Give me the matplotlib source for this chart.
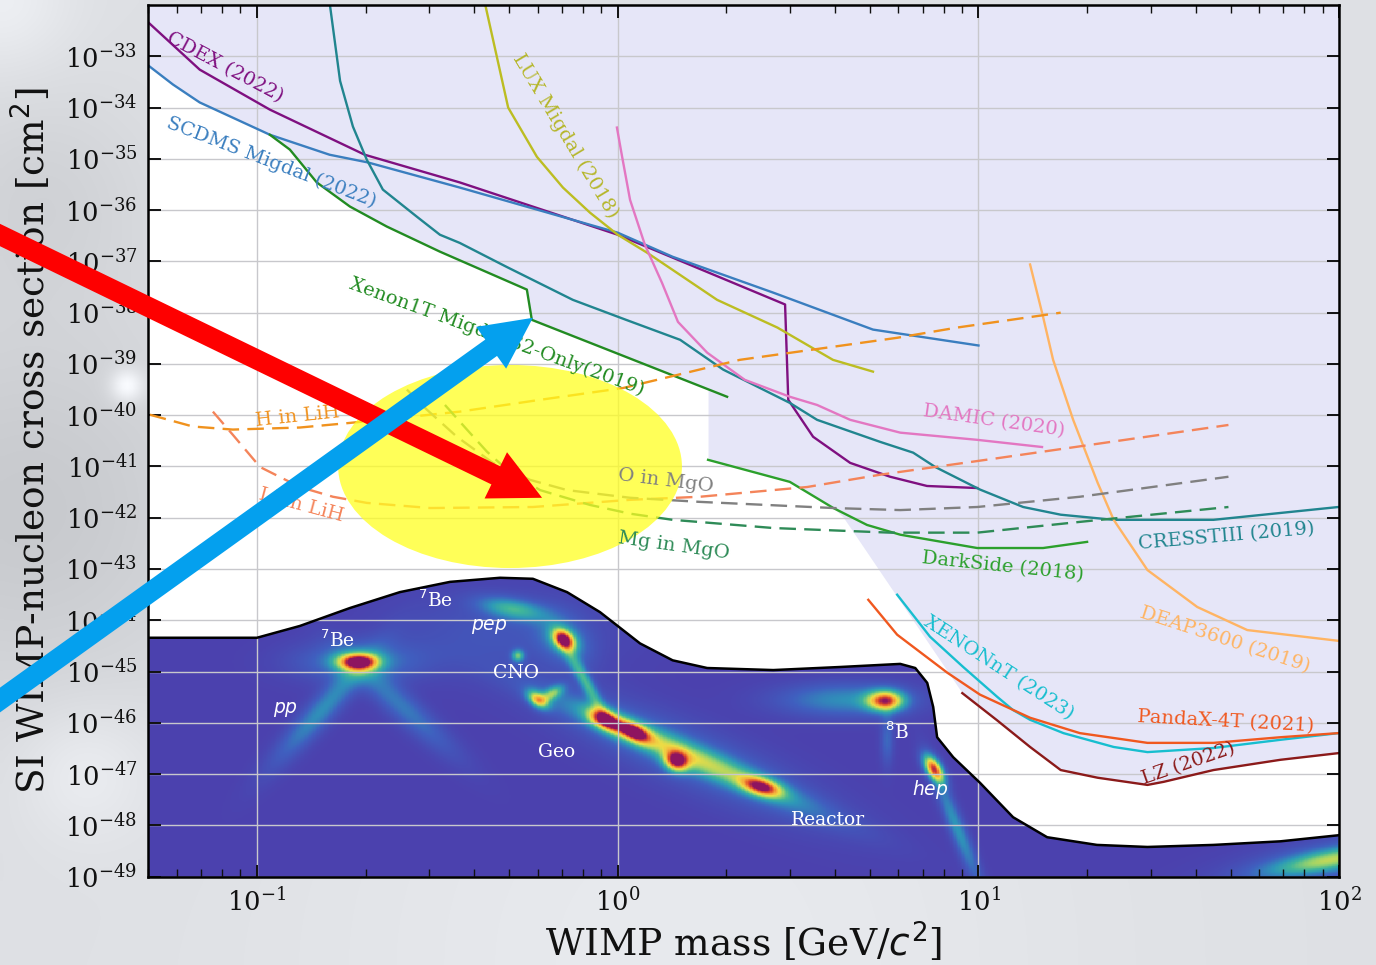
import numpy as np
import matplotlib
matplotlib.use("Agg")
import matplotlib.pyplot as plt
from matplotlib.colors import LinearSegmentedColormap
from matplotlib.patches import Polygon, Ellipse
from matplotlib.ticker import LogLocator, FixedLocator, NullLocator, NullFormatter

plt.rcParams['font.family'] = ['DejaVu Serif']
plt.rcParams['mathtext.fontset'] = 'dejavusans'

# ---------------- limits (mass in GeV/c^2, log10 of cross section in cm^2) ----------------
CDEX_M = [0.05, 0.0694, 0.1086, 0.199, 0.365, 1.0, 2.91, 2.97, 3.48, 4.41, 5.69, 7.2, 9.92]
CDEX_LS = [-32.34, -33.26, -34.04, -34.92, -35.46, -36.48, -37.84, -39.70, -40.42, -40.93, -41.20, -41.38, -41.42]

SCDMS_M = [0.05, 0.0585, 0.0694, 0.1086, 0.159, 0.203, 0.365, 1.0, 1.42, 2.70, 5.1, 10.0]
SCDMS_LS = [-33.18, -33.55, -33.90, -34.53, -34.92, -35.07, -35.56, -36.44, -36.91, -37.61, -38.33, -38.64]

CRESST_M = [0.159, 0.170, 0.1845, 0.2017, 0.2234, 0.2777, 0.3215, 0.365, 0.493, 0.751, 1.055, 1.49,
            1.96, 3.0, 3.57, 5.34, 6.59, 7.59, 10.1, 13.3, 16.9, 23.7, 44.8, 99.5]
CRESST_LS = [-31.95, -33.48, -34.37, -35.02, -35.60, -36.13, -36.48, -36.64, -37.11, -37.75, -38.14, -38.53,
             -39.11, -39.76, -40.09, -40.52, -40.73, -41.01, -41.45, -41.79, -41.94, -42.04, -42.04, -41.79]

XE1T_M = [0.1086, 0.1234, 0.1465, 0.181, 0.229, 0.3215, 0.56, 0.578, 2.01]
XE1T_LS = [-34.53, -34.82, -35.46, -35.93, -36.32, -36.81, -37.55, -38.14, -39.64]

LUX_M = [0.428, 0.497, 0.597, 0.705, 0.838, 1.0, 1.206, 1.886, 2.77, 3.95, 5.1]
LUX_LS = [-31.95, -34.00, -34.96, -35.56, -36.05, -36.48, -36.83, -37.75, -38.29, -38.92, -39.15]

DAMIC_M = [0.995, 1.028, 1.082, 1.19, 1.327, 1.469, 1.77, 2.25, 3.0, 3.57, 4.41, 6.07, 9.92, 15.0]
DAMIC_LS = [-34.39, -34.95, -35.80, -36.68, -37.42, -38.18, -38.78, -39.31, -39.64, -39.80, -40.09, -40.34,
            -40.48, -40.62]

DS_M = [1.78, 3.0, 3.96, 4.91, 6.07, 9.92, 15.1, 20.0]
DS_LS = [-40.87, -41.30, -41.81, -42.14, -42.33, -42.59, -42.59, -42.47]

DEAP_M = [13.9, 15.1, 16.1, 18.3, 21.4, 23.7, 29.4, 40.4, 55.6, 99.5]
DEAP_LS = [-37.06, -38.08, -38.92, -40.09, -41.32, -42.04, -43.02, -43.74, -44.19, -44.40]

XENT_M = [5.95, 7.34, 9.07, 11.26, 12.47, 13.9, 17.2, 23.7, 29.4, 44.8, 68.7, 99.5]
XENT_LS = [-43.50, -44.32, -44.91, -45.49, -45.75, -45.94, -46.20, -46.47, -46.57, -46.49, -46.33, -46.20]

PANDA_M = [4.95, 5.95, 8.19, 10.1, 13.9, 19.1, 29.4, 44.8, 68.7, 99.5]
PANDA_LS = [-43.60, -44.28, -45.02, -45.45, -45.90, -46.20, -46.39, -46.39, -46.28, -46.20]

LZ_M = [9.02, 11.26, 13.9, 16.9, 21.4, 29.4, 32.6, 44.8, 68.7, 99.5]
LZ_LS = [-45.42, -45.95, -46.47, -46.92, -47.07, -47.21, -47.15, -46.92, -46.72, -46.59]

# projected Migdal sensitivities (dashed)
HLIH_M = [0.0505, 0.0664, 0.0857, 0.1315, 0.181, 0.2655, 0.365, 0.609, 1.034, 2.18, 5.95, 8.73, 16.9]
HLIH_LS = [-39.99, -40.22, -40.28, -40.24, -40.15, -40.03, -39.93, -39.70, -39.47, -38.92, -38.49, -38.29, -38.00]

LILIH_M = [0.0755, 0.0857, 0.102, 0.1315, 0.1624, 0.2017, 0.302, 0.582, 1.082, 1.69, 3.35, 5.34, 11.5, 49.3]
LILIH_LS = [-39.93, -40.38, -41.01, -41.40, -41.59, -41.71, -41.81, -41.79, -41.65, -41.59, -41.40, -41.16,
            -40.83, -40.19]

OMGO_M = [0.2604, 0.2956, 0.3583, 0.451, 0.571, 0.7236, 1.082, 1.69, 3.96, 6.07, 9.92, 19.1, 49.3]
OMGO_LS = [-39.50, -39.89, -40.42, -40.93, -41.26, -41.46, -41.61, -41.69, -41.81, -41.85, -41.79, -41.59, -41.20]

MGMGO_M = [0.332, 0.382, 0.434, 0.493, 0.609, 0.838, 1.082, 1.42, 2.70, 5.69, 9.92, 19.1, 49.3]
MGMGO_LS = [-39.80, -40.28, -40.71, -41.06, -41.46, -41.75, -41.92, -42.04, -42.20, -42.29, -42.29, -42.08, -41.79]

# neutrino fog upper edge
FOG_M = [0.05, 0.1, 0.1315, 0.181, 0.249, 0.343, 0.472, 0.582, 0.7236, 0.893, 1.153, 1.42, 1.77, 2.70, 4.14,
         6.07, 6.68, 7.21, 7.49, 7.68, 8.51, 10.1, 12.47, 15.5, 21.3, 29.4, 44.8, 68.7, 100]
FOG_LS = [-44.34, -44.34, -44.11, -43.76, -43.45, -43.25, -43.17, -43.19, -43.45, -43.84, -44.45, -44.78, -44.93,
          -44.97, -44.91, -44.85, -44.93, -45.22, -45.69, -46.28, -46.67, -47.17, -47.84, -48.23, -48.38, -48.42,
          -48.38, -48.31, -48.19]

# lower edge of the combined excluded region
EXCL_M = [0.05, 0.0585, 0.0694, 0.1086, 0.1234, 0.1465, 0.181, 0.229, 0.3215, 0.56, 0.578, 1.78, 1.78, 3.0, 3.96,
          4.21, 9.02, 11.26, 13.9, 16.9, 21.4, 29.4, 32.6, 44.8, 68.7, 100]
EXCL_LS = [-33.18, -33.55, -33.90, -34.53, -34.82, -35.46, -35.93, -36.32, -36.81, -37.55, -38.14, -39.48, -40.87,
           -41.30, -41.81, -41.98, -45.42, -45.95, -46.47, -46.92, -47.07, -47.21, -47.15, -46.92, -46.72, -46.59]

# neutrino-fog features: (mass, log10 sigma, long width, short width [mass decades], angle deg, strength)
FOG_BLOBS = [
    (0.1905, -44.81, 0.040, 0.016, 0, 0.80),
    (0.1905, -44.81, 0.12, 0.038, 0, 0.24),
    (0.1515, -45.75, 0.14, 0.026, 48, 0.28),
    (0.252, -45.67, 0.14, 0.028, -42, 0.22),
    (0.512, -43.78, 0.065, 0.020, -10, 0.36),
    (0.48, -44.20, 0.22, 0.08, 0, 0.10),
    (0.71, -44.38, 0.024, 0.017, -40, 0.80),
    (0.71, -44.38, 0.055, 0.038, -40, 0.24),
    (0.529, -44.69, 0.012, 0.012, 0, 0.42),
    (0.601, -45.55, 0.024, 0.014, -35, 0.62),
    (0.661, -45.42, 0.024, 0.012, 30, 0.38),
    (0.812, -45.18, 0.075, 0.013, -60, 0.38),
    (0.922, -45.94, 0.034, 0.018, -25, 0.74),
    (1.11, -46.18, 0.034, 0.017, -25, 0.70),
    (1.452, -46.76, 0.024, 0.019, -20, 0.74),
    (2.51, -47.25, 0.040, 0.017, -15, 0.66),
    (1.558, -46.63, 0.25, 0.026, -23, 0.46),
    (1.558, -46.63, 0.29, 0.060, -23, 0.18),
    (5.52, -45.57, 0.036, 0.020, 0, 0.80),
    (4.27, -45.55, 0.13, 0.032, 0, 0.28),
    (5.58, -46.33, 0.05, 0.013, 90, 0.18),
    (7.53, -46.90, 0.030, 0.015, -57, 0.85),
    (8.73, -48.05, 0.12, 0.016, -68, 0.30),
    (94.6, -48.67, 0.12, 0.020, 10, 0.42),
    (94.6, -48.67, 0.20, 0.040, 10, 0.18),
]

# (label, mass, log10 sigma, rotation, colour, horizontal anchor)
CURVE_LABELS = [
    ("CDEX (2022)", 0.0815, -33.22, -28, '#7f1080', 'center'),
    ("SCDMS Migdal (2022)", 0.1093, -35.07, -21, '#3a7ebf', 'center'),
    ("Xenon1T Migdal S2-Only(2019)", 0.181, -37.42, -20, '#228b22', 'left'),
    ("LUX Migdal (2018)", 0.714, -34.55, -59, '#b5b62a', 'center'),
    ("DAMIC (2020)", 11.06, -40.11, -8, '#e377c2', 'center'),
    ("O in MgO", 1.361, -41.28, -7, '#808080', 'center'),
    ("Mg in MgO", 1.432, -42.55, -8, '#2e8b57', 'center'),
    ("DarkSide (2018)", 11.71, -42.96, -6, '#2ca02c', 'center'),
    ("CRESSTIII (2019)", 48.6, -42.37, 5, '#21858f', 'center'),
    ("DEAP3600 (2019)", 48.3, -44.38, -18, '#ffb463', 'center'),
    ("XENONnT (2023)", 11.34, -44.93, -33, '#17becf', 'center'),
    ("PandaX-4T (2021)", 48.6, -45.98, -3, '#f0581f', 'center'),
    ("LZ (2022)", 38.2, -46.80, 19, '#8b1a1a', 'center'),
    ("H in LiH", 0.1298, -40.03, 6, '#f0921e', 'center'),
    ("Li in LiH", 0.1324, -41.75, -15, '#f4845a', 'center'),
]

FOG_LABELS = [
    ("$^7$Be", 0.1676, -44.38), ("$^7$Be", 0.3134, -43.60), ("$pep$", 0.44, -44.13),
    ("CNO", 0.522, -45.03), ("$pp$", 0.1197, -45.73), ("Geo", 0.679, -46.57),
    ("Reactor", 3.83, -47.89), ("$^8$B", 5.95, -46.18), ("$hep$", 7.35, -47.29),
]

XLIM = (0.05, 100)
YLIM_EXP = (-49, -32)
YTICK_EXP = list(range(-49, -32))

# highlighted region: centre (mass, log10 sigma) and half extents in decades
HIGHLIGHT = (0.503, -41.0, 0.4765, 1.98)
# arrows: tip (mass, log10 sigma), tail in figure fraction
RED_ARROW = ((0.617, -41.61), (-0.0436, 0.7866))
BLUE_ARROW = ((0.582, -38.10), (-0.0436, 0.230))

# ---------------- figure ----------------
fig = plt.figure(figsize=(13.76, 9.65), dpi=100)

# soft photographic backdrop
bg = fig.add_axes([0, 0, 1, 1], zorder=-10)
bg.axis('off')
H, W = 200, 286
gy, gx = np.mgrid[0:H, 0:W]
fx = gx / (W - 1)
fy = 1 - gy / (H - 1)
img = np.ones((H, W, 3)) * np.array([222, 224, 228], float)
BACKDROP = [(0.02, 0.47, 0.15, -22), (0.03, 0.80, 0.08, -12), (0.091, 0.601, 0.012, 40),
            (0.0, 1.0, 0.05, 15), (0.06, 0.20, 0.05, 14), (0.5, 0.0, 0.3, 10)]
for cx, cy, r, d in BACKDROP:
    g = np.exp(-0.5 * (((fx - cx) * 1.426) ** 2 + (fy - cy) ** 2) / r ** 2)
    img += d * g[..., None]
bg.imshow(np.clip(img, 0, 255) / 255, extent=[0, 1, 0, 1], aspect='auto', interpolation='bilinear')
bg.set_xlim(0, 1)
bg.set_ylim(0, 1)

ax = fig.add_axes([0.1078, 0.0915, 0.8655, 0.9033])
ax.set_facecolor('white')
ax.set_xscale('log')
ax.set_yscale('log')
ax.set_xlim(*XLIM)
ax.set_ylim(10.0 ** YLIM_EXP[0], 10.0 ** YLIM_EXP[1])


def sig(a):
    return 10.0 ** np.asarray(a, float)


# excluded region
ax.fill_between(EXCL_M, sig(EXCL_LS), 1e-31, color='#e6e6f8', lw=0, zorder=0.8)

# neutrino fog
lx0, lx1 = np.log10(XLIM[0]), np.log10(XLIM[1])
bbox = ax.get_position()
px_w = bbox.width * fig.get_figwidth() * fig.dpi
px_h = bbox.height * fig.get_figheight() * fig.dpi
aspect = (px_h / (YLIM_EXP[1] - YLIM_EXP[0])) / (px_w / (lx1 - lx0))
xs = np.linspace(lx0, lx1, 900)
ys = np.linspace(-49.2, -42.8, 500)
LX, LY = np.meshgrid(xs, ys)
field = np.zeros_like(LX)
for m, s, sa, sb, ang, amp in FOG_BLOBS:
    dx = LX - np.log10(m)
    dy = (LY - s) * aspect
    t = np.deg2rad(ang)
    u = dx * np.cos(t) + dy * np.sin(t)
    v = -dx * np.sin(t) + dy * np.cos(t)
    field += amp * np.exp(-0.5 * ((u / sa) ** 2 + (v / sb) ** 2))
field = np.clip(field, 0, 1)
fog_cmap = LinearSegmentedColormap.from_list('fog', [
    (0.0, '#4b41ae'), (0.15, '#3f5fbf'), (0.3, '#2d96b8'), (0.42, '#3fb59a'), (0.55, '#9bd36a'),
    (0.66, '#ecdc45'), (0.78, '#f5a83a'), (0.9, '#de4a2a'), (1.0, '#8e1460')])
mesh = ax.pcolormesh(10 ** xs, 10 ** ys, field, cmap=fog_cmap, vmin=0, vmax=1,
                     shading='auto', zorder=1, rasterized=True)
fog_edge = np.column_stack([list(FOG_M) + [XLIM[1], XLIM[0]],
                            list(sig(FOG_LS)) + [1e-50, 1e-50]])
clip_poly = Polygon(fog_edge, closed=True, transform=ax.transData, fc='none', ec='none')
ax.add_patch(clip_poly)
mesh.set_clip_path(clip_poly)
ax.plot(FOG_M, sig(FOG_LS), color='black', lw=1.8, zorder=3)

# experimental limits
solid = [(CDEX_M, CDEX_LS, '#7f1080'), (SCDMS_M, SCDMS_LS, '#3a7ebf'), (CRESST_M, CRESST_LS, '#21858f'),
         (XE1T_M, XE1T_LS, '#228b22'), (LUX_M, LUX_LS, '#bcbd22'), (DAMIC_M, DAMIC_LS, '#e377c2'),
         (DS_M, DS_LS, '#2ca02c'), (DEAP_M, DEAP_LS, '#ffb463'), (XENT_M, XENT_LS, '#17becf'),
         (PANDA_M, PANDA_LS, '#f0581f'), (LZ_M, LZ_LS, '#8b1a1a')]
for m, s, c in solid:
    ax.plot(m, sig(s), color=c, lw=1.7, zorder=3)

dashed = [(HLIH_M, HLIH_LS, '#f0921e'), (LILIH_M, LILIH_LS, '#f4845a'),
          (OMGO_M, OMGO_LS, '#808080'), (MGMGO_M, MGMGO_LS, '#2e8b57')]
for m, s, c in dashed:
    ax.plot(m, sig(s), color=c, lw=1.7, ls=(0, (7, 3.5)), zorder=3)

for txt, m, s, rot, c, ha in CURVE_LABELS:
    ax.text(m, 10.0 ** s, txt, color=c, fontsize=14, rotation=rot, rotation_mode='anchor',
            ha=ha, va='center', zorder=5)

for txt, m, s in FOG_LABELS:
    ax.text(m, 10.0 ** s, txt, color='white', fontsize=13.5, ha='center', va='center', zorder=5)

# highlighted region
hm, hs, hw, hh = HIGHLIGHT
cx = (np.log10(hm) - lx0) / (lx1 - lx0)
cy = (hs - YLIM_EXP[0]) / (YLIM_EXP[1] - YLIM_EXP[0])
ax.add_patch(Ellipse((cx, cy), 2 * hw / (lx1 - lx0), 2 * hh / (YLIM_EXP[1] - YLIM_EXP[0]),
                     transform=ax.transAxes, facecolor='#ffff20', alpha=0.75, lw=0, zorder=4))

# axes styling
ax.xaxis.set_major_locator(LogLocator(base=10, numticks=20))
ax.xaxis.set_minor_locator(LogLocator(base=10, subs=np.arange(2, 10), numticks=40))
ax.xaxis.set_minor_formatter(NullFormatter())
ax.yaxis.set_major_locator(FixedLocator([10.0 ** e for e in YTICK_EXP]))
ax.yaxis.set_minor_locator(NullLocator())
ax.tick_params(which='both', direction='in', top=True, right=True, colors='#111111')
ax.tick_params(which='major', length=9, width=1.4, labelsize=18.5, pad=8)
ax.tick_params(which='minor', length=5.5, width=1.0)
ax.set_axisbelow(False)
ax.grid(True, which='major', color='#c8c8cc', lw=1.0)
for sp in ax.spines.values():
    sp.set_linewidth(1.8)
    sp.set_zorder(6)

ax.set_xlabel(r"WIMP mass [GeV/$c^2$]", fontsize=27, labelpad=3, color='#111111')
ax.set_ylabel(r"SI WIMP-nucleon cross section [cm$^2$]", fontsize=27, labelpad=8, color='#111111')

# pointer arrows
for (tip, tail), col in [(RED_ARROW, '#fe0000'), (BLUE_ARROW, '#04a0ee')]:
    ann = ax.annotate('', xy=(tip[0], 10.0 ** tip[1]), xycoords='data',
                      xytext=tail, textcoords='figure fraction',
                      arrowprops=dict(arrowstyle='simple,head_length=37,head_width=37,tail_width=14.5',
                                      mutation_scale=1, color=col, lw=0, shrinkA=0, shrinkB=0),
                      annotation_clip=False, zorder=10)
    ann.arrow_patch.set_clip_on(False)
    ann.arrow_patch.set_zorder(10)

fig.savefig('out.png', dpi=100)
